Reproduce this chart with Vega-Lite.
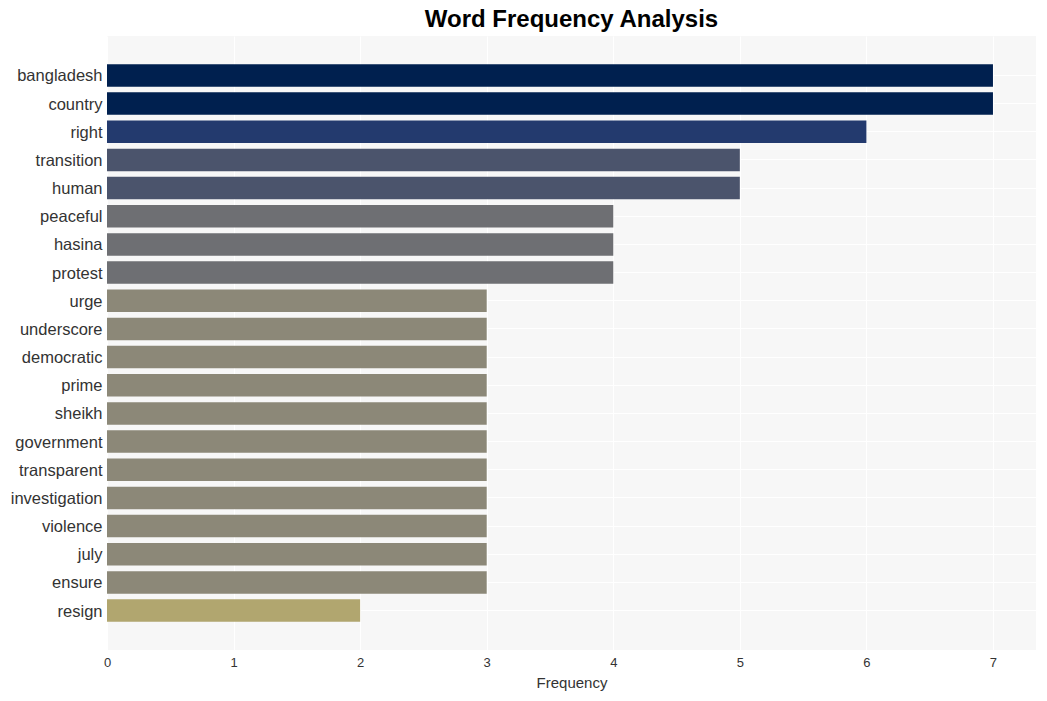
{
  "$schema": "https://vega.github.io/schema/vega-lite/v6.json",
  "width": 929,
  "height": 614,
  "autosize": "none",
  "padding": {"left": 107, "top": 36, "right": 11, "bottom": 51},
  "background": "white",
  "title": {"text": "Word Frequency Analysis", "fontSize": 24, "fontWeight": "bold", "font": "Liberation Sans", "color": "black", "anchor": "middle", "offset": 4},
  "data": {"values": [
    {"word": "bangladesh", "count": 7},
    {"word": "country", "count": 7},
    {"word": "right", "count": 6},
    {"word": "transition", "count": 5},
    {"word": "human", "count": 5},
    {"word": "peaceful", "count": 4},
    {"word": "hasina", "count": 4},
    {"word": "protest", "count": 4},
    {"word": "urge", "count": 3},
    {"word": "underscore", "count": 3},
    {"word": "democratic", "count": 3},
    {"word": "prime", "count": 3},
    {"word": "sheikh", "count": 3},
    {"word": "government", "count": 3},
    {"word": "transparent", "count": 3},
    {"word": "investigation", "count": 3},
    {"word": "violence", "count": 3},
    {"word": "july", "count": 3},
    {"word": "ensure", "count": 3},
    {"word": "resign", "count": 2}
  ]},
  "config": {
    "view": {"fill": "#f7f7f7", "stroke": null},
    "font": "Liberation Sans"
  },
  "mark": {"type": "bar"},
  "encoding": {
    "y": {
      "field": "word", "type": "nominal", "sort": null,
      "scale": {"paddingInner": 0.2, "paddingOuter": 1},
      "axis": {"title": null, "labelFontSize": 16.5, "labelColor": "#333333", "labelFont": "Liberation Sans", "domain": false, "ticks": false, "labelPadding": 5, "labelOffset": 1, "grid": true, "gridColor": "white", "gridWidth": 1, "bandPosition": 0.5}
    },
    "x": {
      "field": "count", "type": "quantitative",
      "scale": {"domain": [0, 7.34], "nice": false},
      "axis": {"title": "Frequency", "titleFontSize": 15, "titleFontWeight": "normal", "titleColor": "#333333", "titlePadding": 6, "labelFontSize": 13, "labelColor": "#333333", "labelFlush": false, "values": [0,1,2,3,4,5,6,7], "domain": false, "ticks": false, "labelPadding": 6, "grid": true, "gridColor": "white", "gridWidth": 1}
    },
    "color": {
      "field": "count", "type": "ordinal",
      "scale": {"domain": [2,3,4,5,6,7], "range": ["#b1a66f", "#8c8878", "#6e6f73", "#4b546c", "#233a6e", "#00204f"]},
      "legend": null
    }
  }
}
